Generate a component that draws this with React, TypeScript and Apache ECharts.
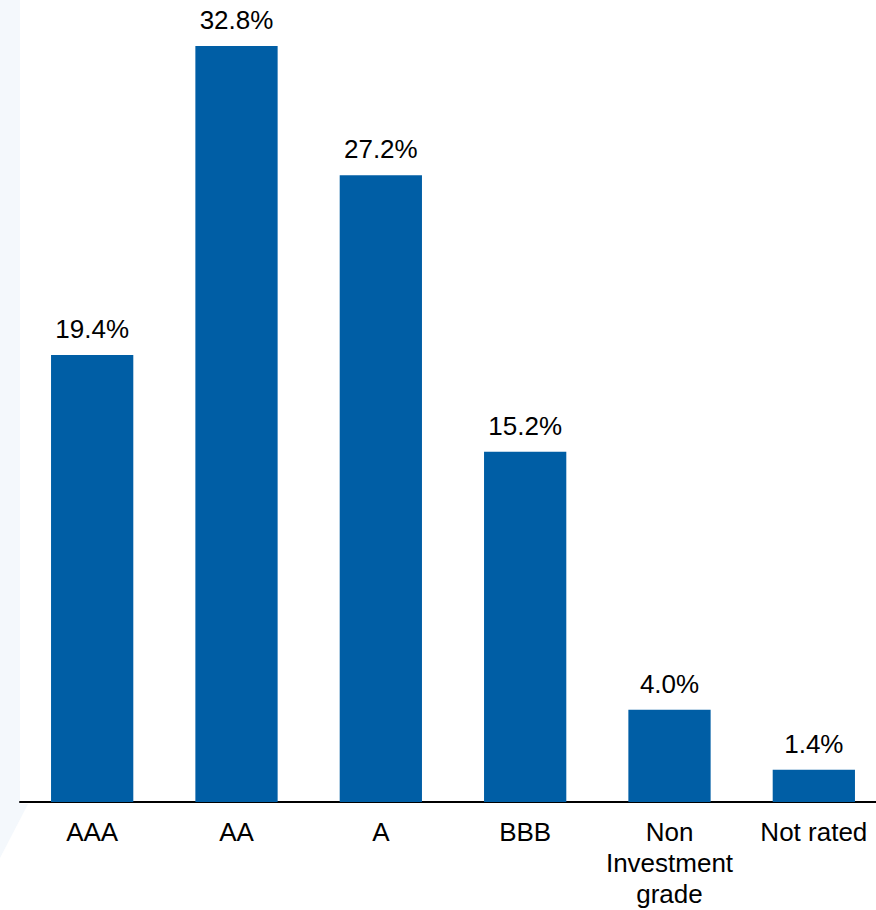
import React, { useEffect, useRef } from "react";
import * as echarts from "echarts";

const categories = ["AAA", "AA", "A", "BBB", "Non\nInvestment\ngrade", "Not rated"];
const values = [19.4, 32.8, 27.2, 15.2, 4.0, 1.4];

export default function App() {
  const ref = useRef<HTMLDivElement>(null);
  useEffect(() => {
    if (!ref.current) return;
    const chart = echarts.init(ref.current, null, { renderer: "svg" });
    chart.setOption({
      animation: false,
      backgroundColor: "#ffffff",
      textStyle: { fontFamily: "Liberation Sans, Arial, sans-serif" },
      graphic: [
        { type: "rect", x: 0, y: 0, shape: { x: 0, y: 0, width: 20, height: 804 }, style: { fill: "#f4f8fc" }, z: -10, silent: true },
        { type: "polygon", x: 0, y: 0, shape: { points: [[0, 804], [28, 804], [0, 858]] }, style: { fill: "#f4f8fc" }, z: -10, silent: true },
      ],
      grid: { left: 20, width: 866, top: 0, bottom: 108, containLabel: false, outerBoundsMode: "none" },
      xAxis: {
        type: "category",
        data: categories,
        axisLine: { show: true, lineStyle: { color: "#000", width: 2 } },
        axisTick: { show: false },
        axisLabel: {
          color: "#000",
          fontSize: 26,
          lineHeight: 31,
          margin: 14,
          interval: 0,
          fontFamily: "Liberation Sans, Arial, sans-serif",
        },
      },
      yAxis: {
        type: "value",
        min: 0,
        max: 34.8,
        show: false,
        splitLine: { show: false },
      },
      series: [
        {
          type: "bar",
          data: values,
          barCategoryGap: "43%",
          itemStyle: { color: "#005ea5" },
          label: {
            show: true,
            position: "top",
            distance: 13,
            color: "#000",
            fontSize: 26,
            fontFamily: "Liberation Sans, Arial, sans-serif",
            formatter: (p: any) => p.value.toFixed(1) + "%",
          },
        },
      ],
    });
    return () => chart.dispose();
  }, []);
  return <div ref={ref} style={{ position: "absolute", left: 0, top: 0, width: 876, height: 910 }} />;
}
